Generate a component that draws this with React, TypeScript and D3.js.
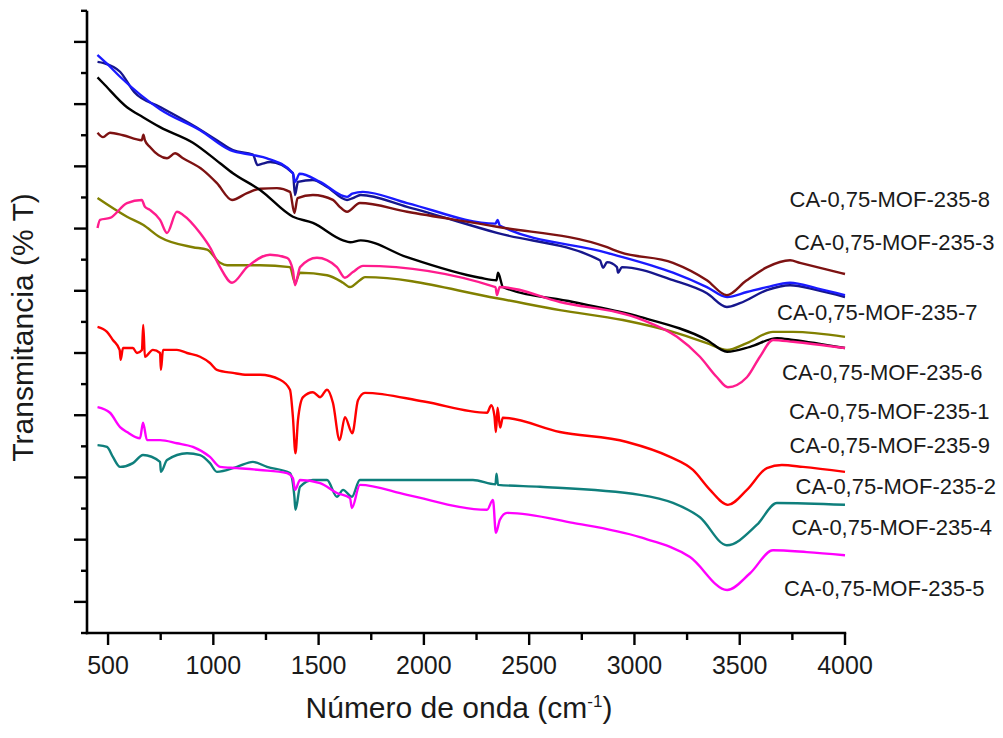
import React from "react";
import * as d3 from "d3";

// Wavenumber (cm-1) vs transmittance (arbitrary %T units, axis unlabeled)
const blueSeries: [number, number][] = [
  [450, 92.9], [495, 91.5], [557, 89.4], [750, 84.1], [937, 80.8], [1080, 77.6], [1190, 76.8],
  [1255, 76.3], [1378, 73.9], [1388, 72.5], [1410, 73.8], [1507, 72.5], [1635, 70.1], [1660, 70.6],
  [1710, 70.9], [1920, 69.1], [2340, 65.8], [2350, 66.4], [2360, 65.5], [2870, 61.1], [3183, 57.9],
  [3344, 55.6], [3440, 54.0], [3534, 54.8], [3629, 55.6], [3739, 56.3], [3867, 55.4], [4000, 54.3],
];
const navySeries: [number, number][] = [
  [450, 91.8], [480, 91.6], [557, 90.2], [625, 86.9], [750, 84.5], [903, 81.6], [1017, 79.2],
  [1093, 77.6], [1188, 76.9], [1210, 75.2], [1230, 75.4], [1270, 75.7], [1378, 73.9], [1388, 70.4],
  [1402, 72.5], [1473, 72.8], [1540, 71.7], [1635, 69.6], [1663, 69.9], [1700, 70.4], [1920, 68.5],
  [2347, 64.3], [2836, 59.9], [2851, 58.7], [2870, 59.6], [2917, 58.8], [2922, 57.9], [2940, 58.8],
  [3183, 56.7], [3344, 54.6], [3439, 52.4], [3501, 53.0], [3629, 55.1], [3739, 55.9], [3867, 55.1],
  [4000, 54.0],
];
const maroonSeries: [number, number][] = [
  [450, 80.4], [476, 79.7], [509, 80.4], [571, 80.0], [660, 79.2], [668, 80.1], [675, 79.2],
  [699, 78.1], [780, 76.3], [818, 77.1], [856, 76.3], [951, 74.4], [1017, 72.3], [1089, 69.6],
  [1160, 70.7], [1222, 71.4], [1302, 71.5], [1364, 70.9], [1385, 67.5], [1400, 69.9], [1473, 70.4],
  [1568, 69.6], [1600, 68.5], [1635, 67.7], [1696, 69.1], [1920, 67.7], [2347, 65.3], [2870, 62.0],
  [2931, 61.2], [3183, 59.5], [3344, 56.7], [3439, 54.3], [3530, 56.6], [3630, 58.8], [3739, 59.9],
  [3786, 59.5], [4000, 57.7],
];
const blackSeries: [number, number][] = [
  [450, 89.3], [476, 88.4], [590, 84.5], [666, 82.9], [747, 81.3], [903, 78.8], [1032, 75.5],
  [1093, 73.9], [1222, 71.2], [1378, 66.9], [1473, 65.9], [1616, 63.1], [1650, 62.8], [1700, 63.1],
  [1920, 60.4], [2266, 57.1], [2345, 56.7], [2352, 57.9], [2376, 55.6], [2708, 53.2], [3026, 50.8],
  [3344, 47.1], [3440, 45.2], [3549, 46.0], [3677, 47.4], [3753, 47.1], [4000, 45.8],
];
const oliveSeries: [number, number][] = [
  [450, 69.9], [590, 66.9], [666, 65.6], [747, 63.6], [903, 62.0], [970, 61.6], [1032, 59.5],
  [1065, 59.1], [1222, 59.1], [1364, 58.8], [1388, 56.3], [1412, 57.9], [1540, 57.5], [1616, 56.3],
  [1649, 55.6], [1696, 56.7], [1720, 57.2], [2347, 53.8], [2646, 51.9], [2945, 50.3], [3202, 48.2],
  [3344, 46.6], [3440, 45.5], [3534, 46.6], [3658, 48.4], [3753, 48.4], [4000, 47.6],
];
const pinkSeries: [number, number][] = [
  [450, 65.1], [462, 66.4], [509, 66.7], [590, 69.1], [660, 69.6], [675, 68.5], [699, 68.0],
  [747, 66.4], [780, 64.3], [827, 67.7], [856, 67.2], [937, 64.3], [984, 62.0], [1032, 58.8],
  [1089, 56.3], [1160, 58.8], [1269, 60.8], [1350, 60.3], [1378, 58.3], [1388, 55.9], [1412, 58.8],
  [1492, 60.3], [1587, 58.8], [1625, 57.1], [1663, 58.0], [1711, 59.0], [2340, 55.6], [2347, 54.3],
  [2360, 55.6], [2646, 53.2], [3040, 50.3], [3202, 47.6], [3311, 44.4], [3392, 41.1], [3444, 39.5],
  [3534, 41.1], [3596, 44.4], [3658, 47.1], [3753, 46.8], [4000, 45.8],
];
const redSeries: [number, number][] = [
  [450, 49.2], [495, 48.4], [523, 47.1], [555, 45.5], [560, 43.9], [571, 45.8], [618, 45.8],
  [637, 45.0], [661, 45.5], [667, 49.5], [675, 44.4], [713, 45.5], [747, 45.0], [751, 42.3],
  [761, 45.5], [827, 45.5], [875, 45.0], [937, 44.4], [984, 43.4], [1017, 42.3], [1093, 41.8],
  [1160, 41.5], [1222, 41.5], [1317, 40.7], [1364, 39.1], [1378, 34.7], [1390, 28.9], [1402, 34.2],
  [1426, 37.9], [1473, 38.7], [1507, 37.9], [1540, 39.1], [1568, 37.0], [1600, 31.0], [1625, 34.7],
  [1660, 32.1], [1687, 37.4], [1720, 38.6], [2000, 37.2], [2300, 35.4], [2320, 36.6], [2335, 34.9],
  [2342, 32.3], [2350, 36.2], [2362, 33.0], [2375, 34.6], [2646, 32.3], [2964, 30.7], [3169, 28.3],
  [3278, 26.2], [3359, 23.0], [3444, 20.6], [3534, 23.0], [3629, 26.5], [3700, 27.0], [3800, 26.7],
  [4000, 25.9],
];
const tealSeries: [number, number][] = [
  [450, 30.2], [495, 29.9], [523, 28.3], [557, 26.7], [618, 27.3], [666, 28.6], [747, 27.5],
  [751, 25.9], [780, 27.8], [875, 28.9], [937, 28.6], [984, 27.3], [1017, 25.9], [1112, 26.7],
  [1188, 27.5], [1255, 26.7], [1364, 25.7], [1385, 21.9], [1390, 19.8], [1412, 23.5], [1473, 24.6],
  [1540, 24.6], [1587, 21.9], [1616, 23.0], [1658, 21.9], [1696, 24.6], [2233, 24.6], [2340, 23.9],
  [2345, 25.6], [2352, 23.8], [2551, 23.5], [3026, 22.2], [3183, 20.9], [3311, 18.6], [3439, 14.1],
  [3582, 17.4], [3677, 20.9], [4000, 20.6],
];
const magentaSeries: [number, number][] = [
  [450, 36.3], [509, 35.4], [557, 33.1], [590, 32.3], [652, 31.3], [666, 33.8], [685, 31.0],
  [747, 31.0], [827, 30.5], [903, 29.9], [984, 28.3], [1032, 26.7], [1112, 26.5], [1222, 26.2],
  [1350, 25.7], [1378, 24.9], [1388, 23.0], [1412, 24.6], [1507, 24.1], [1587, 22.5], [1649, 21.7],
  [1658, 20.1], [1696, 23.8], [1920, 22.2], [2300, 19.8], [2328, 21.4], [2342, 16.1], [2361, 18.2],
  [2395, 19.3], [2708, 17.7], [3026, 15.4], [3264, 12.2], [3440, 6.9], [3549, 9.6], [3658, 13.3],
  [3819, 13.0], [4000, 12.5],
];

const seriesList = [
  { data: navySeries, color: "#16168c" },
  { data: blueSeries, color: "#1a1aff" },
  { data: maroonSeries, color: "#7d1212" },
  { data: oliveSeries, color: "#818000" },
  { data: blackSeries, color: "#000000" },
  { data: pinkSeries, color: "#ff1c8d" },
  { data: redSeries, color: "#ff0000" },
  { data: tealSeries, color: "#0f7f7c" },
  { data: magentaSeries, color: "#ff00ff" },
];

const sampleLabels = [
  "CA-0,75-MOF-235-8",
  "CA-0,75-MOF-235-3",
  "CA-0,75-MOF-235-7",
  "CA-0,75-MOF-235-6",
  "CA-0,75-MOF-235-1",
  "CA-0,75-MOF-235-9",
  "CA-0,75-MOF-235-2",
  "CA-0,75-MOF-235-4",
  "CA-0,75-MOF-235-5",
];
const labelLayout = [
  [789.5, 207], [794, 249.5], [777, 319.5], [782, 379.5], [789, 418.5],
  [789.5, 453], [795.5, 494], [791.5, 534.5], [784, 596],
];

const xMajorTicks = [500, 1000, 1500, 2000, 2500, 3000, 3500, 4000];
const xMinorTicks = [750, 1250, 1750, 2250, 2750, 3250, 3750];
const yMajorTicks = [5, 15, 25, 35, 45, 55, 65, 75, 85, 95];
const yMinorTicks = [0, 10, 20, 30, 40, 50, 60, 70, 80, 90, 100];

const W = 1003;
const H = 738;
const LEFT = 87;
const RIGHT = 845;
const BOTTOM = 633;
const TOP = 10.8;

export default function App() {
  const x = d3.scaleLinear().domain([400, 4000]).range([LEFT, RIGHT]);
  const y = d3.scaleLinear().domain([0, 100]).range([BOTTOM, TOP]);
  const line = d3
    .line<[number, number]>()
    .x((d) => x(d[0]))
    .y((d) => y(d[1]))
    .curve(d3.curveMonotoneX);
  const font = "'Liberation Sans', Arial, sans-serif";
  const ink = "#1a1a1a";
  return (
    <svg
      width={W}
      height={H}
      style={{ position: "absolute", left: 0, top: 0, background: "#fff" }}
      fontFamily={font}
    >
      <rect x={0} y={0} width={W} height={H} fill="#fff" />
      {seriesList.map((s, i) => (
        <path
          key={i}
          d={line(s.data) || ""}
          fill="none"
          stroke={s.color}
          strokeWidth={2.4}
          strokeLinejoin="round"
        />
      ))}
      {/* axes */}
      <line x1={LEFT} x2={LEFT} y1={TOP} y2={BOTTOM + 1.2} stroke="#000" strokeWidth={2.6} />
      <line x1={LEFT - 1.2} x2={RIGHT + 1.2} y1={BOTTOM} y2={BOTTOM} stroke="#000" strokeWidth={2.6} />
      {yMajorTicks.map((t) => (
        <line key={"ym" + t} x1={LEFT - 13} x2={LEFT} y1={y(t)} y2={y(t)} stroke="#000" strokeWidth={2.4} />
      ))}
      {yMinorTicks.map((t) => (
        <line key={"yn" + t} x1={LEFT - 6} x2={LEFT} y1={y(t)} y2={y(t)} stroke="#000" strokeWidth={2.4} />
      ))}
      {xMajorTicks.map((t) => (
        <line key={"xm" + t} x1={x(t)} x2={x(t)} y1={BOTTOM} y2={BOTTOM + 12} stroke="#000" strokeWidth={2.4} />
      ))}
      {xMinorTicks.map((t) => (
        <line key={"xn" + t} x1={x(t)} x2={x(t)} y1={BOTTOM} y2={BOTTOM + 7} stroke="#000" strokeWidth={2.4} />
      ))}
      {xMajorTicks.map((t) => (
        <text key={"xl" + t} x={x(t)} y={674} textAnchor="middle" fontSize={25} fill={ink}>
          {t}
        </text>
      ))}
      <text x={459} y={718} textAnchor="middle" fontSize={30} fill={ink}>
        Número de onda (cm
        <tspan dy={-11} fontSize={17}>-1</tspan>
        <tspan dy={11}>)</tspan>
      </text>
      <text
        transform="translate(33,327.5) rotate(-90)"
        textAnchor="middle"
        fontSize={30}
        fill={ink}
      >
        Transmitancia (% T)
      </text>
      {sampleLabels.map((name, i) => (
        <text key={name} x={labelLayout[i][0]} y={labelLayout[i][1]} fontSize={22} fill={ink}>
          {name}
        </text>
      ))}
    </svg>
  );
}
